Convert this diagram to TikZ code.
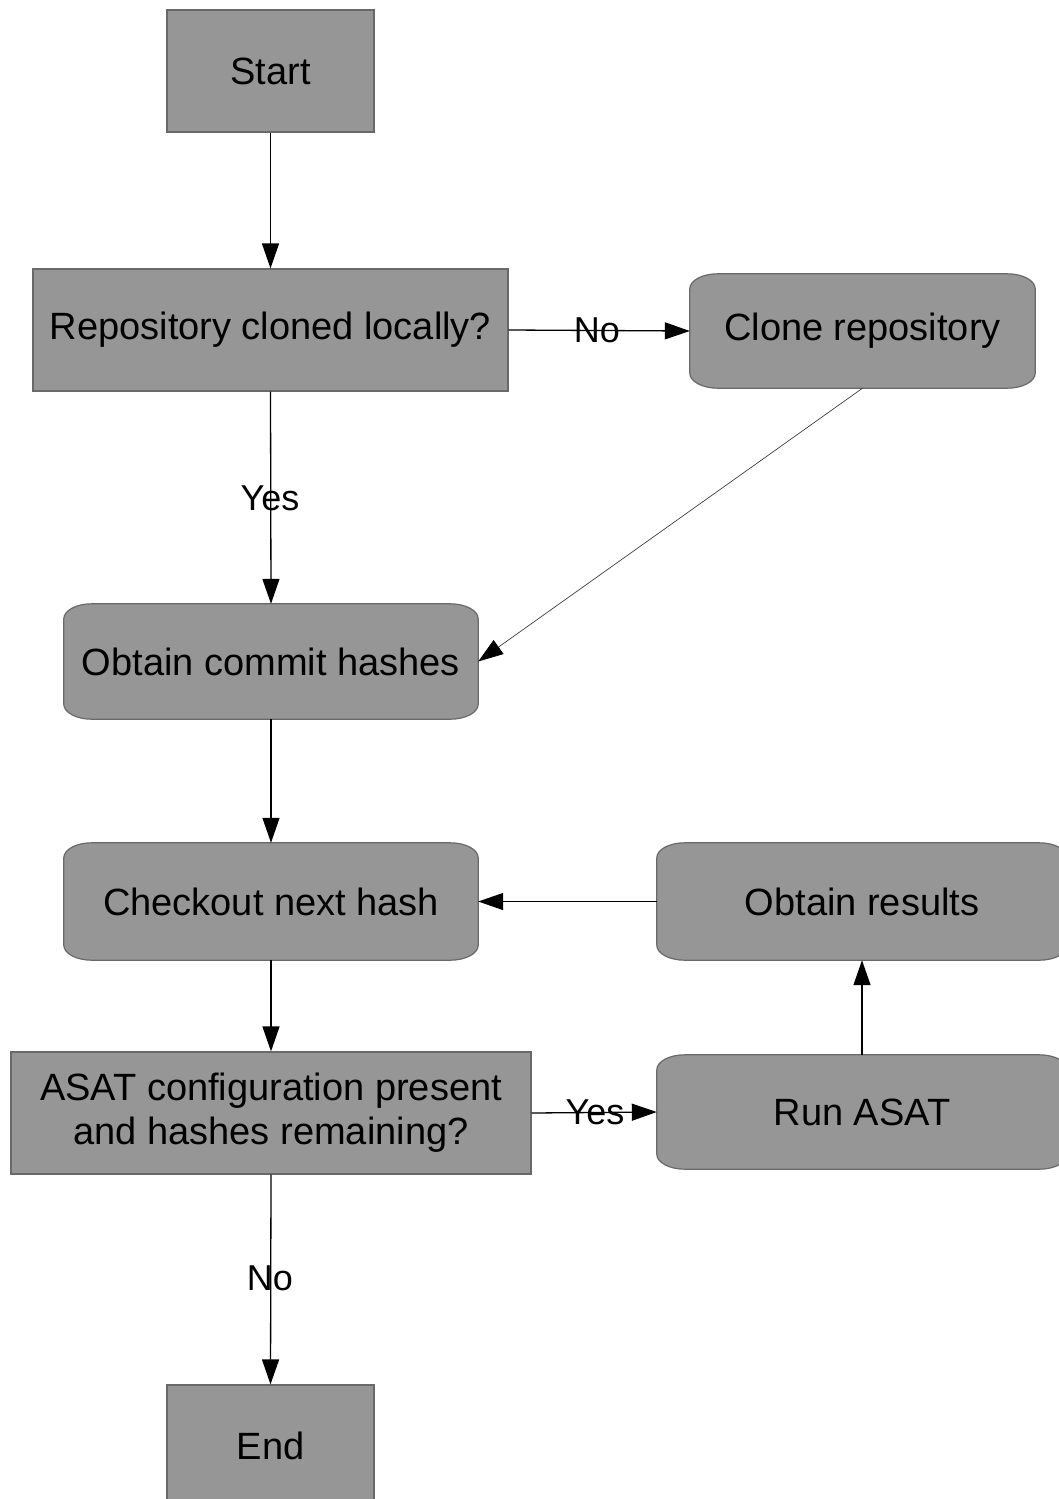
\documentclass[tikz,border=0pt]{standalone}
\usepackage{fontspec}
\setmainfont{Liberation Sans}
\usetikzlibrary{arrows.meta,backgrounds}
\definecolor{boxfill}{RGB}{150,150,150}
\definecolor{boxline}{RGB}{105,105,105}
\tikzset{
  txt/.style={font=\fontsize{38}{44}\selectfont, text=black, inner sep=0pt, align=center},
  sqbox/.style={txt, rectangle, fill=boxfill, draw=boxline, line width=1.2pt},
  rbox/.style={txt, rectangle},
  conn/.style={line width=1.3pt, -{Triangle[length=25pt,width=17pt]}},
  thin conn/.style={line width=0.7pt, draw=black!75, -{Triangle[length=25pt,width=17pt,color=black,fill=black]}},
  lbl/.style={font=\fontsize{36}{40}\selectfont, inner sep=0pt}
}
\newcommand{\roundshape}[1]{%
  \path[fill=boxfill, draw=boxline, line width=1.2pt]
    ([xshift=28pt]#1.north west) -- ([xshift=-28pt]#1.north east)
    arc[start angle=90,end angle=0,x radius=28pt,y radius=15pt]
    -- ([yshift=15pt]#1.south east)
    arc[start angle=0,end angle=-90,x radius=28pt,y radius=15pt]
    -- ([xshift=28pt]#1.south west)
    arc[start angle=-90,end angle=-180,x radius=28pt,y radius=15pt]
    -- ([yshift=-15pt]#1.north west)
    arc[start angle=180,end angle=90,x radius=28pt,y radius=15pt] -- cycle;}
\begin{document}
\begin{tikzpicture}[x=1pt,y=1pt]
\useasboundingbox (0,0) rectangle (1059,-1499);
% square boxes
\node[sqbox, minimum width=207pt, minimum height=122pt] (start) at (270.5,-71) {Start};
\node[sqbox, minimum width=475pt, minimum height=122pt] (repo) at (270.5,-330) {Repository cloned locally?};
\node[sqbox, minimum width=520pt, minimum height=122pt] (asat) at (271,-1113) {ASAT configuration present\\and hashes remaining?};
\node[sqbox, minimum width=207pt, minimum height=122pt] (end) at (270.5,-1446) {End};
% rounded boxes
\node[rbox, minimum width=345pt, minimum height=114pt] (clone) at (862.5,-331) {Clone repository};
\node[rbox, minimum width=414pt, minimum height=115pt] (hashes) at (271,-661.5) {Obtain commit hashes};
\node[rbox, minimum width=414pt, minimum height=117pt] (checkout) at (271,-901.5) {Checkout next hash};
\node[rbox, minimum width=410pt, minimum height=117pt] (results) at (862,-901.5) {Obtain results};
\node[rbox, minimum width=410pt, minimum height=114pt] (run) at (862,-1112) {Run ASAT};
\begin{pgfonlayer}{background}
\fill[white] (0,0) rectangle (1059,-1499);
\clip (0,0) rectangle (1059,-1499);
\roundshape{clone}
\roundshape{hashes}
\roundshape{checkout}
\roundshape{results}
\roundshape{run}
\end{pgfonlayer}
% connectors
\draw[conn] (start.south) -- (repo.north);
\draw[conn] (repo.east) -- (clone.west);
\node[lbl] (lno1) at (597,-330) {No};
\draw[conn] (repo.south) -- (hashes.north);
\node[lbl] (lyes1) at (270,-498) {Yes};
\draw[thin conn] (clone.south) -- (hashes.east);
\draw[conn] (hashes.south) -- (checkout.north);
\draw[conn] (results.west) -- (checkout.east);
\draw[conn] (checkout.south) -- (asat.north);
\draw[conn] (asat.east) -- (run.west);
\node[lbl] (lyes2) at (595,-1112) {Yes};
\draw[conn] (run.north) -- (results.south);
\draw[conn] (asat.south) -- (end.north);
\node[lbl] (lno2) at (270,-1278) {No};
\end{tikzpicture}
\end{document}
